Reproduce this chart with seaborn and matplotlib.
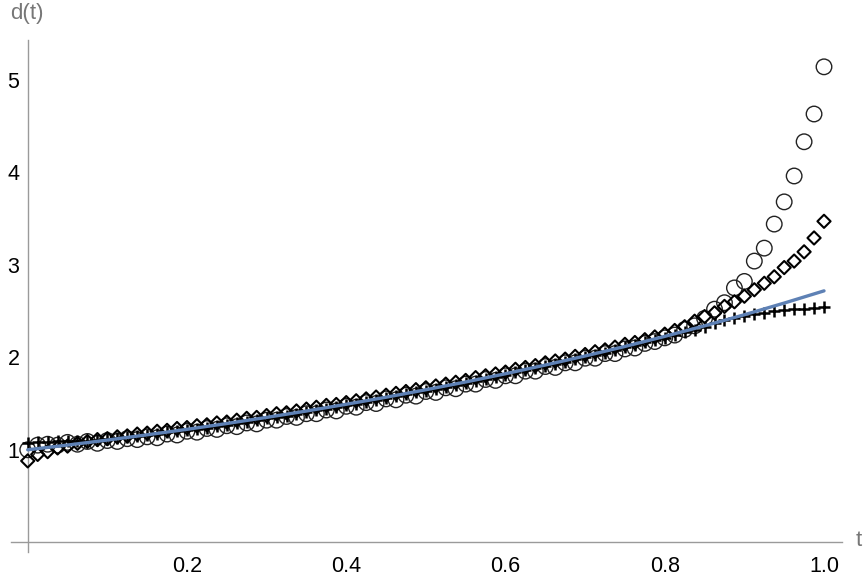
import numpy as np
import pandas as pd
import matplotlib
matplotlib.use("Agg")
import matplotlib.pyplot as plt
import seaborn as sns
from matplotlib.ticker import FixedLocator

# ---- data ----
t_pts = np.linspace(0, 1, 81)

circles = [1.00, 1.05, 1.06, 1.05, 1.08, 1.06, 1.09, 1.07, 1.10, 1.09,
           1.12, 1.11, 1.14, 1.13, 1.17, 1.16, 1.20, 1.19, 1.23, 1.22,
           1.26, 1.25, 1.29, 1.28, 1.32, 1.32, 1.36, 1.35, 1.39, 1.39,
           1.43, 1.42, 1.47, 1.46, 1.51, 1.50, 1.55, 1.54, 1.59, 1.58,
           1.63, 1.62, 1.67, 1.66, 1.71, 1.71, 1.76, 1.75, 1.80, 1.80,
           1.85, 1.85, 1.90, 1.89, 1.94, 1.94, 1.99, 1.99, 2.04, 2.04,
           2.09, 2.10, 2.15, 2.17, 2.21, 2.24, 2.30, 2.34, 2.42, 2.52,
           2.59, 2.75, 2.82, 3.04, 3.18, 3.44, 3.68, 3.96, 4.33, 4.63,
           5.14]

diamonds = [0.88, 0.95, 0.98, 1.02, 1.04, 1.07, 1.09, 1.11, 1.12, 1.14,
            1.15, 1.17, 1.18, 1.20, 1.21, 1.23, 1.24, 1.26, 1.27, 1.29,
            1.30, 1.32, 1.34, 1.35, 1.37, 1.39, 1.40, 1.42, 1.44, 1.46,
            1.48, 1.49, 1.51, 1.53, 1.55, 1.57, 1.59, 1.61, 1.63, 1.65,
            1.67, 1.69, 1.71, 1.73, 1.75, 1.78, 1.80, 1.82, 1.84, 1.87,
            1.89, 1.91, 1.94, 1.96, 1.98, 2.01, 2.03, 2.06, 2.08, 2.11,
            2.14, 2.16, 2.19, 2.22, 2.25, 2.29, 2.33, 2.39, 2.44, 2.48,
            2.55, 2.60, 2.66, 2.73, 2.80, 2.87, 2.97, 3.04, 3.14, 3.29,
            3.47]

pluses = [1.07, 1.08, 1.08, 1.09, 1.09, 1.10, 1.10, 1.11, 1.12, 1.13,
          1.14, 1.15, 1.16, 1.17, 1.19, 1.20, 1.21, 1.23, 1.24, 1.26,
          1.27, 1.29, 1.30, 1.32, 1.34, 1.35, 1.37, 1.39, 1.41, 1.43,
          1.44, 1.46, 1.48, 1.50, 1.52, 1.54, 1.56, 1.58, 1.60, 1.62,
          1.64, 1.66, 1.68, 1.70, 1.72, 1.74, 1.77, 1.79, 1.81, 1.84,
          1.86, 1.88, 1.91, 1.93, 1.95, 1.98, 2.00, 2.03, 2.05, 2.08,
          2.11, 2.13, 2.16, 2.19, 2.21, 2.24, 2.27, 2.30, 2.33, 2.37,
          2.40, 2.43, 2.45, 2.47, 2.48, 2.50, 2.51, 2.52, 2.52, 2.53,
          2.54]

t_line = [0.00, 0.05, 0.10, 0.15, 0.20, 0.25, 0.30, 0.35, 0.40, 0.45, 0.50,
          0.55, 0.60, 0.65, 0.70, 0.75, 0.80, 0.85, 0.90, 0.95, 1.00]
d_line = [1.000, 1.051, 1.105, 1.162, 1.221, 1.284, 1.350, 1.419, 1.492,
          1.568, 1.649, 1.733, 1.822, 1.916, 2.014, 2.117, 2.226, 2.340,
          2.460, 2.586, 2.718]

x_major = [0.2, 0.4, 0.6, 0.8, 1.0]
x_major_labels = ["0.2", "0.4", "0.6", "0.8", "1.0"]
y_major = [1, 2, 3, 4, 5]
y_major_labels = ["1", "2", "3", "4", "5"]

# ---- styling ----
sns.set_style("white")
plt.rcParams['font.family'] = ['Liberation Sans', 'DejaVu Sans']

fig = plt.figure(figsize=(8.65, 5.83), dpi=100)
ax = fig.add_axes([11/865, 31/583, 831/865, 512/583])

df_c = pd.DataFrame({"t": t_pts, "d": circles})
df_d = pd.DataFrame({"t": t_pts, "d": diamonds})
df_p = pd.DataFrame({"t": t_pts, "d": pluses})
df_l = pd.DataFrame({"t": t_line, "d": d_line})

sns.scatterplot(data=df_c, x="t", y="d", ax=ax, marker="o", s=125,
                facecolor="none", edgecolor="#222222", linewidth=1.0, zorder=3)
sns.scatterplot(data=df_d, x="t", y="d", ax=ax, marker="D", s=45,
                facecolor="none", edgecolor="black", linewidth=1.5, zorder=3)
sns.scatterplot(data=df_p, x="t", y="d", ax=ax, marker="+", s=80,
                color="black", linewidth=1.8, zorder=3)
sns.lineplot(data=df_l, x="t", y="d", ax=ax, color="#5E81B5",
             linewidth=2.4, zorder=5)

ax.set_xlim(-0.021, 1.0226)
ax.set_ylim(-0.105, 5.43)

axis_gray = "#9a9a9a"
for s in ["top", "right"]:
    ax.spines[s].set_visible(False)
ax.spines["left"].set_position(("data", 0))
ax.spines["bottom"].set_position(("data", 0))
for s in ["left", "bottom"]:
    ax.spines[s].set_color(axis_gray)
    ax.spines[s].set_linewidth(1.0)

ax.xaxis.set_major_locator(FixedLocator(x_major))
ax.set_xticklabels(x_major_labels)
ax.xaxis.set_minor_locator(FixedLocator([0.05, 0.1, 0.15, 0.25, 0.3, 0.35,
                                         0.45, 0.5, 0.55, 0.65, 0.7, 0.75,
                                         0.85, 0.9, 0.95]))
ax.yaxis.set_major_locator(FixedLocator(y_major))
ax.set_yticklabels(y_major_labels)
ax.yaxis.set_minor_locator(FixedLocator([0.2, 0.4, 0.6, 0.8, 1.2, 1.4, 1.6,
                                         1.8, 2.2, 2.4, 2.6, 2.8, 3.2, 3.4,
                                         3.6, 3.8, 4.2, 4.4, 4.6, 4.8, 5.2]))
ax.tick_params(which="major", direction="in", length=6, width=1.0,
               color=axis_gray, labelsize=15.5, labelcolor="black")
ax.tick_params(axis="x", which="major", pad=10)
ax.tick_params(axis="y", which="major", pad=6)
ax.tick_params(which="minor", direction="in", length=3.5, width=0.8,
               color=axis_gray)

ax.set_xlabel("")
ax.set_ylabel("")
fig.text(27/865, 1 - 13/583, "d(t)", ha="center", va="center",
         fontsize=16, color="#777777")
fig.text(859/865, 1 - 541/583, "t", ha="center", va="center",
         fontsize=16, color="#777777")

fig.savefig("out.png", dpi=100)
